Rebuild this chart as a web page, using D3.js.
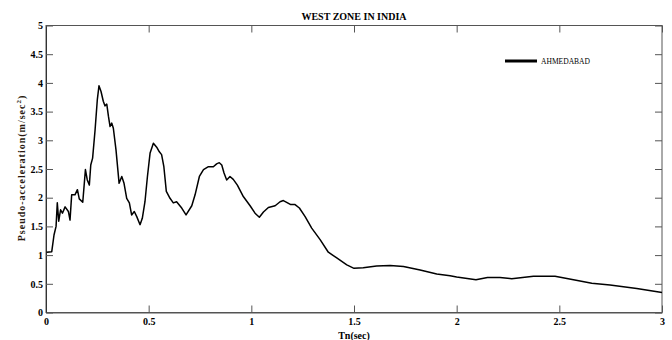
<!DOCTYPE html>
<html>
<head>
<meta charset="utf-8">
<script src="https://cdn.jsdelivr.net/npm/d3@7"></script>
<style>
  html, body { margin: 0; padding: 0; background: #fff; }
  svg { display: block; }
  text { font-family: "Liberation Serif", "Times New Roman", serif; }
</style>
</head>
<body>
<svg id="chart" width="672" height="340"></svg>
<script>
// Response spectrum, Ahmedabad (west zone)
const periods = [0.003, 0.028, 0.039, 0.049, 0.055, 0.062, 0.071, 0.080, 0.093, 0.109, 0.117, 0.125, 0.141, 0.153, 0.162, 0.179, 0.192, 0.201, 0.211, 0.218, 0.227, 0.239, 0.250, 0.258, 0.268, 0.279, 0.287, 0.296, 0.304, 0.312, 0.320, 0.328, 0.341, 0.356, 0.369, 0.380, 0.393, 0.406, 0.417, 0.430, 0.442, 0.458, 0.469, 0.482, 0.494, 0.507, 0.523, 0.539, 0.552, 0.563, 0.574, 0.586, 0.604, 0.620, 0.636, 0.661, 0.682, 0.710, 0.726, 0.747, 0.767, 0.791, 0.815, 0.831, 0.844, 0.856, 0.867, 0.880, 0.896, 0.912, 0.932, 0.961, 0.994, 1.018, 1.039, 1.059, 1.083, 1.116, 1.140, 1.156, 1.172, 1.192, 1.213, 1.234, 1.262, 1.294, 1.335, 1.375, 1.416, 1.465, 1.500, 1.545, 1.610, 1.676, 1.741, 1.822, 1.903, 1.968, 2.000, 2.094, 2.150, 2.211, 2.268, 2.374, 2.479, 2.569, 2.658, 2.747, 2.877, 3.000];
const accel = [1.05, 1.06, 1.35, 1.50, 1.91, 1.59, 1.79, 1.73, 1.84, 1.76, 1.61, 2.05, 2.05, 2.14, 1.98, 1.92, 2.49, 2.31, 2.22, 2.57, 2.69, 3.18, 3.71, 3.95, 3.85, 3.68, 3.60, 3.63, 3.42, 3.24, 3.30, 3.21, 2.83, 2.25, 2.37, 2.25, 1.99, 1.91, 1.70, 1.76, 1.67, 1.53, 1.64, 1.93, 2.37, 2.78, 2.95, 2.88, 2.80, 2.75, 2.54, 2.11, 1.99, 1.91, 1.93, 1.82, 1.70, 1.86, 2.05, 2.37, 2.49, 2.54, 2.54, 2.59, 2.61, 2.57, 2.43, 2.31, 2.37, 2.32, 2.22, 2.02, 1.86, 1.73, 1.66, 1.75, 1.83, 1.86, 1.93, 1.95, 1.92, 1.88, 1.88, 1.82, 1.67, 1.47, 1.27, 1.05, 0.95, 0.83, 0.77, 0.78, 0.81, 0.82, 0.80, 0.74, 0.67, 0.64, 0.62, 0.57, 0.61, 0.61, 0.59, 0.63, 0.63, 0.57, 0.51, 0.48, 0.42, 0.35];
const xTicks = [0, 0.5, 1, 1.5, 2, 2.5, 3];
const yTicks = [0, 0.5, 1, 1.5, 2, 2.5, 3, 3.5, 4, 4.5, 5];
const seriesName = "AHMEDABAD";
const chartTitle = "WEST ZONE IN INDIA";

const svg = d3.select("#chart");
const margin = { left: 46, right: 10, top: 25.5, bottom: 27.5 };
const W = 672, H = 340;
const x = d3.scaleLinear().domain([0, 3]).range([margin.left, W - margin.right]);
const y = d3.scaleLinear().domain([0, 5]).range([H - margin.bottom, margin.top]);

const boxColor = "#555";
const tickLen = 7;

// plot frame
svg.append("rect")
  .attr("x", x(0)).attr("y", y(5))
  .attr("width", x(3) - x(0)).attr("height", y(0) - y(5))
  .attr("fill", "none").attr("stroke", boxColor).attr("stroke-width", 1);

// bottom axis with inward ticks
const xAxis = svg.append("g").attr("transform", `translate(0,${y(0)})`)
  .call(d3.axisBottom(x).tickValues(xTicks).tickSizeInner(-tickLen).tickSizeOuter(0).tickPadding(5)
    .tickFormat(d3.format("~g")));
xAxis.select(".domain").attr("stroke", boxColor);
xAxis.selectAll(".tick line").attr("stroke", boxColor);
xAxis.selectAll("text").attr("font-size", 10).attr("font-weight", "bold").attr("fill", "#000");

// top ticks
svg.append("g").attr("transform", `translate(0,${y(5)})`)
  .call(d3.axisTop(x).tickValues(xTicks).tickSizeInner(-tickLen).tickSizeOuter(0).tickFormat(""))
  .call(g => { g.select(".domain").remove(); g.selectAll("line").attr("stroke", boxColor); });

// left axis with inward ticks
const yAxis = svg.append("g").attr("transform", `translate(${x(0)},0)`)
  .call(d3.axisLeft(y).tickValues(yTicks).tickSizeInner(-tickLen).tickSizeOuter(0).tickPadding(3)
    .tickFormat(d3.format("~g")));
yAxis.select(".domain").attr("stroke", "#333");
yAxis.selectAll(".tick line").attr("stroke", boxColor);
yAxis.selectAll("text").attr("font-size", 10).attr("font-weight", "bold").attr("fill", "#000")
  .attr("x", -3);

// right ticks
svg.append("g").attr("transform", `translate(${x(3)},0)`)
  .call(d3.axisRight(y).tickValues(yTicks).tickSizeInner(-tickLen).tickSizeOuter(0).tickFormat(""))
  .call(g => { g.select(".domain").remove(); g.selectAll("line").attr("stroke", boxColor); });

// spectrum curve
const pts = periods.map((t, i) => [t, accel[i]]);
svg.append("path")
  .datum(pts)
  .attr("fill", "none")
  .attr("stroke", "#000")
  .attr("stroke-width", 1.5)
  .attr("stroke-linejoin", "round")
  .attr("d", d3.line().x(d => x(d[0])).y(d => y(d[1])));

// title
svg.append("text")
  .attr("x", (x(0) + x(3)) / 2).attr("y", 20)
  .attr("text-anchor", "middle")
  .attr("font-size", 10).attr("font-weight", "bold")
  .text(chartTitle);

// axis titles
svg.append("text")
  .attr("x", (x(0) + x(3)) / 2).attr("y", 338.5)
  .attr("text-anchor", "middle")
  .attr("font-size", 10).attr("font-weight", "bold")
  .text("Tn(sec)");

const yt = svg.append("text")
  .attr("transform", `translate(25,168) rotate(-90)`)
  .attr("text-anchor", "middle")
  .attr("letter-spacing", 1)
  .attr("font-size", 10).attr("font-weight", "bold").attr("fill", "#2a1a10");
yt.append("tspan").text("Pseudo-acceleration(m/sec");
yt.append("tspan").attr("dy", -4).attr("font-size", 7).text("2");
yt.append("tspan").attr("dy", 4).text(")");

// legend
const lg = svg.append("g");
lg.append("line")
  .attr("x1", 505).attr("x2", 537).attr("y1", 61).attr("y2", 61)
  .attr("stroke", "#000").attr("stroke-width", 3);
lg.append("text")
  .attr("x", 541).attr("y", 64)
  .attr("font-size", 9)
  .attr("textLength", 49).attr("lengthAdjust", "spacingAndGlyphs")
  .text(seriesName);
</script>
</body>
</html>
